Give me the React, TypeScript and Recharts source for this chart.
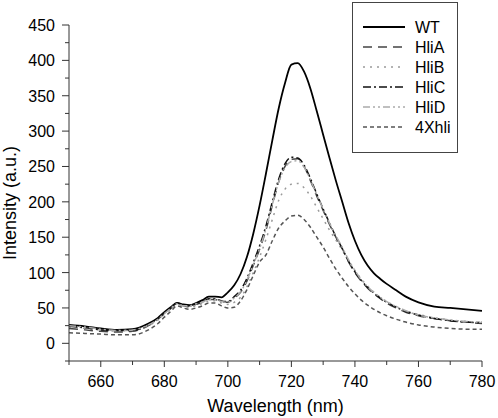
import { LineChart, Line, XAxis, YAxis } from "recharts";

const wavelengths = [
  650, 655, 660, 665, 670, 675, 678, 680, 682, 684, 686, 688, 690, 692, 694, 696, 698, 700, 702, 704,
  706, 708, 710, 712, 714, 716, 718, 720, 722, 724, 726, 728, 730, 732, 734, 736, 738, 740, 742, 744,
  746, 748, 750, 753, 756, 760, 765, 770, 775, 780,
];

const wt = [
  26, 24, 21, 19, 20, 28, 36, 44, 51, 57, 55, 54, 57, 61, 66, 66, 65, 72, 82, 98,
  122, 155, 195, 240, 287, 332, 368, 394, 396, 384, 360, 328, 295, 262, 230, 200, 170, 145, 125, 110,
  99, 91, 84, 75, 66, 58, 52, 50, 48, 46,
];

const hliA = [
  21, 19, 17, 16, 17, 25, 34, 42, 49, 56, 53, 52, 55, 58, 62, 62, 59, 58, 64, 72,
  88, 110, 133, 160, 195, 228, 250, 260, 261, 250, 230, 208, 188, 168, 150, 134, 115, 100, 88, 78,
  70, 63, 57, 50, 44, 39, 35, 32, 30, 28,
];

const hliB = [
  23, 21, 19, 18, 18, 25, 33, 41, 48, 55, 52, 51, 53, 56, 60, 60, 57, 55, 58, 65,
  80, 100, 122, 147, 175, 202, 218, 225, 226, 220, 208, 192, 176, 160, 146, 132, 117, 103, 91, 81,
  72, 65, 59, 52, 46, 41, 36, 33, 31, 30,
];

const hliC = [
  24, 22, 19, 18, 18, 26, 35, 43, 50, 57, 54, 53, 56, 59, 63, 63, 60, 59, 66, 75,
  92, 114, 138, 166, 200, 232, 254, 263, 262, 252, 233, 211, 190, 170, 151, 134, 116, 101, 89, 79,
  71, 64, 58, 51, 45, 40, 35, 32, 30, 29,
];

const hliD = [
  25, 23, 20, 18, 19, 26, 34, 42, 49, 56, 53, 53, 56, 58, 62, 62, 59, 58, 64, 73,
  89, 111, 134, 162, 196, 228, 248, 257, 258, 249, 231, 210, 190, 170, 152, 136, 118, 103, 90, 80,
  72, 65, 59, 52, 46, 40, 36, 33, 31, 30,
];

const xhli4 = [
  15, 14, 13, 12, 12, 19, 28, 37, 45, 53, 50, 48, 50, 53, 57, 57, 53, 50, 51, 60,
  76, 96, 115, 125, 145, 163, 173, 180, 181, 175, 164, 150, 136, 120, 105, 92, 80, 70, 61, 54,
  48, 43, 39, 34, 30, 26, 23, 21, 20, 20,
];

const xTicks = [650, 660, 670, 680, 690, 700, 710, 720, 730, 740, 750, 760, 770, 780];
const yTicks = [-25, 0, 25, 50, 75, 100, 125, 150, 175, 200, 225, 250, 275, 300, 325, 350, 375, 400, 425, 450];

const series = [
  { key: "WT", color: "#000000", dash: undefined, width: 1.8 },
  { key: "HliA", color: "#444444", dash: "9 6", width: 1.5 },
  { key: "HliB", color: "#9a9a9a", dash: "2 5", width: 1.5 },
  { key: "HliC", color: "#111111", dash: "8 3 2 3", width: 1.5 },
  { key: "HliD", color: "#ababab", dash: "7 3 2 3 2 3", width: 1.5 },
  { key: "4Xhli", color: "#555555", dash: "4 3", width: 1.5 },
];

const data = wavelengths.map((w, i) => ({
  w,
  WT: wt[i],
  HliA: hliA[i],
  HliB: hliB[i],
  HliC: hliC[i],
  HliD: hliD[i],
  "4Xhli": xhli4[i],
}));

const FONT = "Arial, 'Liberation Sans', sans-serif";
const AXIS = "#333333";

function XTick({ x, y, payload }: any) {
  const v = payload.value;
  const major = (v - 660) % 20 === 0;
  return (
    <g>
      <line x1={x} y1={y} x2={x} y2={y + (major ? 6 : 4)} stroke={AXIS} strokeWidth={1} />
      {major && (
        <text x={x} y={y + 26} textAnchor="middle" fontSize={16} fontFamily={FONT} fill="#000">
          {v}
        </text>
      )}
    </g>
  );
}

function YTick({ x, y, payload }: any) {
  const v = payload.value;
  const major = v >= 0 && v % 50 === 0;
  return (
    <g>
      <line x1={x} y1={y} x2={x - (major ? 7 : 4)} y2={y} stroke={AXIS} strokeWidth={1} />
      {major && (
        <text x={x - 14} y={y + 6} textAnchor="end" fontSize={16} fontFamily={FONT} fill="#000">
          {v}
        </text>
      )}
    </g>
  );
}

function LegendBox() {
  return (
    <svg width={107} height={152} style={{ position: "absolute", left: 352, top: 2 }}>
      <rect x={0.5} y={0.5} width={105} height={150} fill="#fff" stroke="#444" strokeWidth={1} />
      {series.map((s, i) => {
        const cy = 25 + i * 20;
        return (
          <g key={s.key}>
            <line x1={11} y1={cy} x2={53} y2={cy} stroke={s.color} strokeWidth={s.width} strokeDasharray={s.dash} />
            <text x={63} y={cy + 6} fontSize={16} fontFamily={FONT} fill="#000">
              {s.key}
            </text>
          </g>
        );
      })}
    </svg>
  );
}

export default function App() {
  return (
    <div style={{ position: "absolute", left: 0, top: 0, width: 498, height: 418, background: "#fff" }}>
      <LineChart width={498} height={418} data={data} margin={{ top: 25, right: 16, bottom: 0, left: 0 }}>
        <XAxis
          dataKey="w"
          type="number"
          domain={[650, 780]}
          ticks={xTicks}
          interval={0}
          tickSize={0}
          tickMargin={0}
          tickLine={false}
          tick={<XTick />}
          height={57}
          stroke={AXIS}
          label={{
            content: () => (
              <text x={275.5} y={412} textAnchor="middle" fontSize={18} fontFamily={FONT} fill="#000">
                Wavelength (nm)
              </text>
            ),
          }}
        />
        <YAxis
          type="number"
          domain={[-25, 450]}
          ticks={yTicks}
          interval={0}
          tickSize={0}
          tickMargin={0}
          tickLine={false}
          tick={<YTick />}
          width={69}
          stroke={AXIS}
          label={{
            content: () => (
              <text
                x={16}
                y={203}
                transform="rotate(-90, 16, 203)"
                textAnchor="middle"
                fontSize={18}
                fontFamily={FONT}
                fill="#000"
              >
                Intensity (a.u.)
              </text>
            ),
          }}
        />
        {series.map((s) => (
          <Line
            key={s.key}
            dataKey={s.key}
            type="monotone"
            stroke={s.color}
            strokeWidth={s.width}
            strokeDasharray={s.dash}
            dot={false}
            isAnimationActive={false}
          />
        ))}
      </LineChart>
      <LegendBox />
    </div>
  );
}
